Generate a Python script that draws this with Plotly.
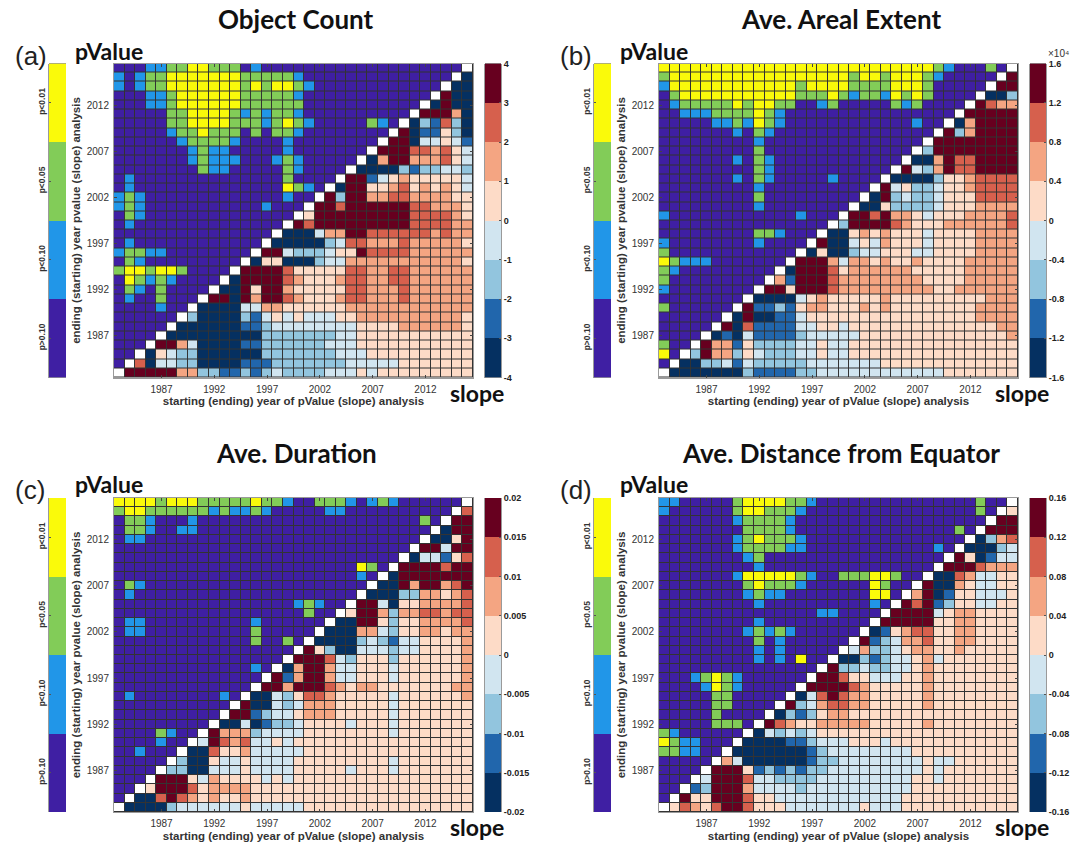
import plotly.graph_objects as go

YEARS = list(range(1983, 2017))
YEAR_TICKS = [1987, 1992, 1997, 2002, 2007, 2012]
P_LABELS = ["p>0.10", "p<0.10", "p<0.05", "p<0.01"]
P_COLORS = ["#3f1fa3", "#2196e8", "#82cc58", "#fafa0a"]
SLOPE_COLORS = ["#053061", "#2166ac", "#92c5de", "#d1e5f0", "#fddbc7", "#f4a582", "#d6604d", "#67001f"]
CLASS_CODES = "PBGYabcdefgh."

TITLES = ["Object Count", "Ave. Areal Extent", "Ave. Duration", "Ave. Distance from Equator"]
LETTERS = ["(a)", "(b)", "(c)", "(d)"]
SLOPE_TICKS_A = [-4, -3, -2, -1, 0, 1, 2, 3, 4]
SLOPE_TEXT_A = ["-4", "-3", "-2", "-1", "0", "1", "2", "3", "4"]
SLOPE_TICKS_B = [-1.6, -1.2, -0.8, -0.4, 0, 0.4, 0.8, 1.2, 1.6]
SLOPE_TEXT_B = ["-1.6", "-1.2", "-0.8", "-0.4", "0", "0.4", "0.8", "1.2", "1.6"]
SLOPE_TICKS_C = [-0.02, -0.015, -0.01, -0.005, 0, 0.005, 0.01, 0.015, 0.02]
SLOPE_TEXT_C = ["-0.02", "-0.015", "-0.01", "-0.005", "0", "0.005", "0.01", "0.015", "0.02"]
SLOPE_TICKS_D = [-0.16, -0.12, -0.08, -0.04, 0, 0.04, 0.08, 0.12, 0.16]
SLOPE_TEXT_D = ["-0.16", "-0.12", "-0.08", "-0.04", "0", "0.04", "0.08", "0.12", "0.16"]

# each row: one class per year, top row = 2016, left column = 1983
ROWS_A = [
"PPPBB GGYYG GGPBP PPPPP PPPPP PPPPP PPP.",
"BPBGG YYYYY YYGGG GGBPP PPPPP PPPPP PP.a",
"BPBGG YYYYY YYGYG YYGBP PPPPP PPPPP P.aa",
"PPPBB GYYYY YYGGG GGBPP PPPPP PPPPP .haa",
"PPPBB GYYYY YYGGG GGGPP PPPPP PPPP. ahaa",
"PPPPP GGYYY YGBGB GGBPP PPPPP PPP.h hhfa",
"PPPPP GGYYY YGGGB GYGBP PPPPG BP.ac bgca",
"PPPPP BGGYG GGPGP GGBPP PPPPP P.hab beca",
"PPPPP PBGGG GBPPP PBPPP PPPPP .hhad dedb",
"PPPPP PPBGB BPPPP PBPPP PPPP. hhhgg fged",
"PPPPP PPBGB BBPPP BGBPP PPP.a fhhff fged",
"PPPPP PPPGB BPPPP PGBPP PP.aa aacbc cddc",
"PBPPP PPPPP PPPPP PGPPP P.hhb defee eeed",
"PBPPP PPPPP PPPPP PYGBP .ahhe efgef efed",
"BGBPP PPPPP PPPPP PBPP. hchhf fggff ffee",
"BGBPP PPPPP PPPPB PPP.h hghhh hhhgg fffe",
"PGBPP PPPPP PPPPP PP.eh hhhhh hhhgg ggfe",
"PBPPP PPPPP PPPPP P.hgh hhhhh hhhgg ggff",
"PPPPP PPPPP PPPPP .aaad ffhhg ggggg fgff",
"PBPPP PPPPP PPPP. aaaaa cdggf ffgff fffe",
"BGGBB PPPPP PPP.h hdccc deehg gggff ffff",
"PGBPP PPPPP PP.ae eaaac ddfff fffff fffe",
"GYYGY YGPPP P.hhh hgeee eeggf fggff ffff",
"PYGBG BPPPP .ahhh hgfee efggf fggff ffff",
"PGBPG PPPP. aaheh hfeee eeggf ffgff ffff",
"PBPPG PPP.h hahfh hgfee efggf ffgff ffff",
"PPPPB PP.aa aaddf feeee eefff fffff ffff",
"PPPPP P.caa aacbd ededd deeff fffff fffe",
"PPPPP .aaaa aabbc ddddd dddee eefff fffe",
"PPPP. aaaaa aaaac ccccc cddee eeeee eeee",
"PPP.h hfdaa aabbc ccccc dddee eeeee eeee",
"PP.ae dccaa aaaac ccccc cddde eeeee eeee",
"P.gad dccaa aabbb ccccc ccddd ddeee eeee",
".hhhh hffcc bbcbc dcccc ddded eeeee eeee",
]
ROWS_B = [
"YYYYY YYYYY YYYYY YYYYY YYYYY YGBPP PGP.",
"GYYYY YYYYY YYYYY YYYGY YGYYY GBPPP PP.h",
"BYYYY YYYYY YYYGY YYYGG GGYYY GPPPP P.hh",
"PGYYY YYYYY YYYGG GYGBG GBYGY GPPPP .aac",
"PBGGG GGYGY YGGPP BGPPP PPGBG PPPP. hgff",
"PPBBB GGGGY GBPPP PPPPP PPPPP PPP.h hhhh",
"PPPPP BBGBY GBPPP PPPPP PPPPB PP.af hhhh",
"PPPPP PPBPG BPPPP PPPPP PPPPP P.hcf hhhh",
"PPPPP PPPPB PPPPP PPPPP PPPPP .hhhh hhhh",
"PPPPP PPPPG PPPPP PPPPP PPPP. chhhh hhhh",
"PPPPP PPBPG BPPPP PPPPP PPP.a afhgg hhhh",
"PPPPP PPPPG BPPPP PPPPP PP.hd cfhgg hhhh",
"PPPPP PPBPG BPPPP PBPPP P.aaa aceef gggg",
"PPPPP PPPPB PPPPP PPPPP .hdec cdeef gggg",
"PPPPP PPPPG PPPPP PPPP. ahcdc cdeee gggg",
"PPPPP PPPPB PPPPP PPP.a aeccc cdeee ffff",
"BPPPP PPPPP PPPBP PP.hh ghffe deeef fffg",
"PPPPP PPPPP PPPPP P.chh hhgfe eefff fffg",
"PPPPP PPPPG GBPPP .aaef efeee deeee ffff",
"BPPPP PPPPB PPPP. haade dfeee deeee ffff",
"GPPPP PPPPP PPP.a eaacd deeed deeee ffff",
"YGBBB PPPPP PP.hh hfdff efeef eeeef ffff",
"GBPPP PPPPP P.ahh hgeff ffffe eeeef ffff",
"GPPPP PPPPP .fbhh hgfff fffff eeeef ffff",
"BPPPP PPPP. hhehh hgfff fffff feeff ffff",
"PPPPP PPP.a aaade feeee efeee eeeee efff",
"GPPPP PP.hb bcbef feeef efeee eeeee ffff",
"PPPPP P.aha abbde eeeee eeeee eeeee ffff",
"PPPPP .hagb bbbdd eedee eeeee eeeee eeff",
"PPPP. abadb bbbcd dddde eeeee eeeee eeef",
"GPP.h ffbec cccdd eddee eeeee eeeee eeee",
"YP.ch ffced cccdd eddee eeeee eeeee eeee",
"P.aac cdbdc ccccd ddddd deeee eeeee eeee",
".aaaa aaacb bbbcc ddddd ddddd ddeee eeee",
]
ROWS_C = [
"YYYYG YYYGG GGGYG GBPPG GGBPB GBPPP PPP.",
"GYYGG GGGGB GBBGB PPPPP BBPPP PPPPP PP.g",
"PGGBP PPBPP PPPPP PPPPP PPPPP PPPPG P.hh",
"PGGBP PBBPP PPPPP PPPPP PPPPP PPPPP .ahh",
"PBBPP PPPPP PPPPP PPPPP PPPPP PPPP. aaeh",
"PPPPP PPPPP PPPPP PPPPP PPPPP PPP.h hdhh",
"PPPPP PPPPP PPPPP PPPPP PPPPP PP.ad dbeg",
"PPPPP PPPPP PPPPP PPPPP PPPYG P.hhh hghh",
"PPPPP PPPPP PPPPP PPPPP PPPBP .ahhh hhhh",
"PGBPP PPPPP PPPPP PPPPP PPPP. aahfh hfgh",
"PBPPP PPPPP PPPPP PPPPP PPP.a aaccf fefg",
"PPPPP PPPPP PPPPP PPBGB PP.hh daeef fffg",
"PPPPP PPPPP PPPPP PPPGP P.ehh fcffg gfgg",
"PBBPP PPPPP PPPBP PPPPP .aahh eceef fffg",
"PBBPP PPPPP PPPGP PPPP. aaaff dceef feff",
"PPPPP PPPPP PPPGP PGP.a aaacd cbdde eeef",
"PPPPP PPPPP PPPPP PP.he caadd dcdde eeef",
"PPPPP PPPPP PPPPP P.hhh gdcee eceee eeef",
"PPPPP PPPPP PPPBP .afhh fddee edeee eeef",
"PPPPP PPPPP PPPP. hbfhh fddee edeee eeef",
"PPPPP PPPPP PPP.h hfhhh gfeff eeeee eeff",
"PBPPP PPPPP BP.aa dcegg feeee edeee eeef",
"PPPPP PPPPP P.haa dcdff feeee edeee eeee",
"PPPPP PPPPP .hhbc ddeff feeee edeee eeee",
"PPPPP PPPP. aadab ccdee eedee edeee eeee",
"PPPPG BPP.h fffcd dddee eeeee edeee eeee",
"PPPPB PP.dh gfgdd edeee eeeee eeeee eeee",
"PPBPP P.aag eefdd dddee eeeee eeeee eeee",
"PPPPP .caae ddedd ddeee eeeee edeee eeee",
"PPPP. ccaad ddedd ddeee eedee edeee eeee",
"PPP.h hhedf eeeed edeee eeeee eeeee eeee",
"PP.eh hhgef fffee eeeee eeeee eeeee eeee",
"P.aag hgfef eefee eeeee eeeee eeeee eeee",
".aaaa cdddd ddedd dddee eeeee eeeee eeee",
]
ROWS_D = [
"BBPPP PPGYY YYGGB PPPPP PPPPP PPPPP GPP.",
"BPPPP PPGYY GGGBP PPPPP PPPPP PPPPP GP.e",
"PPPPP PPBGG GGBPP PPPPP PPPPP PPPPP P.hh",
"PPPPP PPPGG GGBPP PPPPP PPPPP PPPGP .hhh",
"PPPPP PPBGY GGGBP PPPPP PPPPP PPPP. acfg",
"PPPPP PPBGG GGBBP PPPPP PPPPP PBP.a aacd",
"PPPPP PPPBG PPPPP PPPPP PPPPP PP.he abdd",
"PPPPP PPPPB PPPPP PPPPP PPPPP P.hhh gfff",
"PPPPP PPBYY YYYGB PPGGG YYGPP .aagf ddee",
"PPPPP PPPGY GGGBP PPPPP YGPP. haafe ddee",
"PPPPP PPPBG BBPPP PPPPP YYP.f habee ddde",
"PPPPP PPPPB PPPPP PPPPP BP.hg hbcee ddee",
"PPPPP PPPPP PPPPP BBPPP P.hhh hdeff eeee",
"PPPPP PPPPB PPPPP PPPPP .hhhh heeff eeee",
"PPPPP PPPBG BGBPP PPPP. abefg geeff eeee",
"PPPPP PPPPG PBPPP PPP.h bcdff geeff eeee",
"PPPPP PPPPB PBPPP PP.df ccdef feefe eeee",
"PPPPP PPPPB PBPYP P.aac bcdde fdeee eeee",
"PPPPP PPPPP PPPPP .hccd ccdde feeee eeee",
"PPPBG YGBPP PPPP. hhgee dddee feeee eeee",
"PPPPB YGBPP PPP.h hhhgf eeeee feeee eeee",
"PPPPP GGPPP PP.ad ghgff eeeee feeee eeee",
"PPPPP GGPPP P.hcd fggff eeeee feeee eeee",
"PPPPP GPPPP .acbc effee eeeee eeeee eeee",
"PPPPP GGGP. hgfee fffff eeeee feeee eeee",
"GBPPP PPP.a dcdcd eeeee eeeee eeeee eeee",
"YGBBP PP.aa aabbc dddee edeee eeeee eeee",
"GGBBP P.aaa aaaab cdddd dddde eeeee eeee",
"PPPPP .fdaa aaaab ccddd ddddd eddee eeee",
"PPPP. hhheb cbcbc cdddd ddddd edeee eeee",
"PPP.d hhhgd dcccc ddddd dddde edeee eeee",
"PP.bc hhhfd dddcd ddddd dddde eeeee eeee",
"P.hee hhhge edddd ddddd dddee eeeee eeee",
".egfe ghhge eeddd dddde dddee eeeee eeee",
]

W, H = 1082, 848
FONT = "Liberation Sans"
HEAD = "Lato"

def fx(p):
    return p / W

def fy(p):
    return 1 - p / H

ALL_CLASS_COLORS = P_COLORS + SLOPE_COLORS + ["#ffffff"]
n = len(ALL_CLASS_COLORS)
scale = []
for i, c in enumerate(ALL_CLASS_COLORS):
    scale += [[i / n, c], [(i + 1) / n, c]]

PANELS = [
    dict(rows=ROWS_A, ticks=SLOPE_TICKS_A, text=SLOPE_TEXT_A, left=114, top=63.5, dt=0),
    dict(rows=ROWS_B, ticks=SLOPE_TICKS_B, text=SLOPE_TEXT_B, left=659, top=63.5, dt=0),
    dict(rows=ROWS_C, ticks=SLOPE_TICKS_C, text=SLOPE_TEXT_C, left=114, top=498, dt=-1.5),
    dict(rows=ROWS_D, ticks=SLOPE_TICKS_D, text=SLOPE_TEXT_D, left=659, top=498, dt=-1.5),
]

fig = go.Figure()
layout = dict(
    template="none", width=W, height=H, margin=dict(l=0, r=0, t=0, b=0, pad=0), paper_bgcolor="white",
    plot_bgcolor="#333333", showlegend=False, font=dict(family=FONT, size=10, color="#333333"),
)
ann = []
ax = 1
GRAY = "#9a9a9a"

def add_axes(i, xd, yd, xa, ya):
    sx = "" if i == 1 else str(i)
    layout["xaxis" + sx] = dict(domain=[fx(xd[0]), fx(xd[1])], anchor="y" + sx, automargin=False, **xa)
    layout["yaxis" + sx] = dict(domain=[fy(yd[1]), fy(yd[0])], anchor="x" + sx, automargin=False, **ya)
    return "x" + sx, "y" + sx

for k, p in enumerate(PANELS):
    L, T = p["left"], p["top"]
    R, B = L + 359, T + 314
    # main grid
    grid = [[CLASS_CODES.index(ch) for ch in row.replace(" ", "")] for row in p["rows"]]
    assert len(grid) == 34 and all(len(g) == 34 for g in grid), k
    tick = dict(tickmode="array", tickvals=YEAR_TICKS, ticks="inside", ticklen=3, tickcolor="#444444",
                tickfont=dict(size=10, color="#333333", family=FONT), showline=True, linecolor=GRAY, linewidth=1,
                mirror="ticks", showgrid=False, zeroline=False, range=[1982.5, 2016.5], ticklabelstandoff=2)
    xa = dict(tick, title=dict(text="<b>starting (ending) year of pValue (slope) analysis</b>",
                               font=dict(size=11.5, color="#333333", family=FONT), standoff=3))
    ya = dict(tick, title=dict(text="<b>ending (starting) year pvalue (slope) analysis</b>",
                               font=dict(size=11.5, color="#333333", family=FONT), standoff=3))
    xn, yn = add_axes(ax, (L, R), (T, B), xa, ya)
    fig.add_trace(go.Heatmap(x=YEARS, y=YEARS, z=grid[::-1], zmin=-0.5, zmax=n - 0.5,
                             colorscale=scale, showscale=False, xgap=1, ygap=1, xaxis=xn, yaxis=yn,
                             hoverinfo="skip"))
    ax += 1
    # p-value legend bar
    xa = dict(visible=False, range=[0, 1])
    ya = dict(range=[0, 4], tickmode="array", tickvals=[0.5, 1.5, 2.5, 3.5],
              ticktext=["<b>%s</b>" % s for s in P_LABELS], tickangle=-90,
              ticks="inside", ticklen=2, tickcolor="#555555", showline=True, linecolor=GRAY, mirror=False,
              showgrid=False, zeroline=False, tickfont=dict(size=8.5, color="#333333", family=FONT))
    xn, yn = add_axes(ax, (L - 65, L - 48), (T, B), xa, ya)
    pscale = []
    for i, c in enumerate(P_COLORS):
        pscale += [[i / 4, c], [(i + 1) / 4, c]]
    fig.add_trace(go.Heatmap(x=[0.5], y=[0.5, 1.5, 2.5, 3.5], z=[[i] for i in range(4)], zmin=-0.5, zmax=3.5,
                             colorscale=pscale, showscale=False, xaxis=xn, yaxis=yn, hoverinfo="skip"))
    ax += 1
    # slope legend bar
    t = p["ticks"]
    mids = [(t[i] + t[i + 1]) / 2 for i in range(8)]
    xa = dict(visible=False, range=[0, 1])
    ya = dict(range=[t[0], t[-1]], side="right", tickmode="array", tickvals=t,
              ticktext=["<b>%s</b>" % s for s in p["text"]], ticks="inside",
              ticklen=2, tickcolor="#555555", showline=True, linecolor=GRAY, mirror=True, showgrid=False,
              zeroline=False, tickfont=dict(size=9, color="#222222", family=FONT))
    xn, yn = add_axes(ax, (R + 12, R + 28), (T, B), xa, ya)
    sscale = []
    for i, c in enumerate(SLOPE_COLORS):
        sscale += [[i / 8, c], [(i + 1) / 8, c]]
    fig.add_trace(go.Heatmap(x=[0.5], y=mids, z=[[i] for i in range(8)], zmin=-0.5, zmax=7.5,
                             colorscale=sscale, showscale=False, xaxis=xn, yaxis=yn, hoverinfo="skip"))
    ax += 1
    # text
    def note(txt, x, y, size, anchor="center", bold=True, family=HEAD, color="#111111"):
        ann.append(dict(text=("<b>%s</b>" % txt) if bold else txt, x=fx(x), y=fy(y), xref="paper", yref="paper",
                        showarrow=False, xanchor=anchor, yanchor="middle",
                        font=dict(size=size, family=family, color=color)))
    note(TITLES[k], L + 182, T - 44 + p["dt"], 26)
    note("pValue", L - 41, T - 12.5 + p["dt"], 23, anchor="left")
    note(LETTERS[k], L - 101, T - 8, 26, anchor="left", bold=False, family=FONT, color="#222222")
    note("slope", R + 4, T + 329, 23)

ann.append(dict(text="×10⁴", x=fx(1046), y=fy(54), xref="paper", yref="paper", showarrow=False,
                xanchor="left", yanchor="middle", font=dict(size=10, family=FONT, color="#333333")))
layout["annotations"] = ann
fig.update_layout(**layout)
fig.write_html("out.html", config=dict(displayModeBar=False),
               post_script="document.body.style.margin='0';")
